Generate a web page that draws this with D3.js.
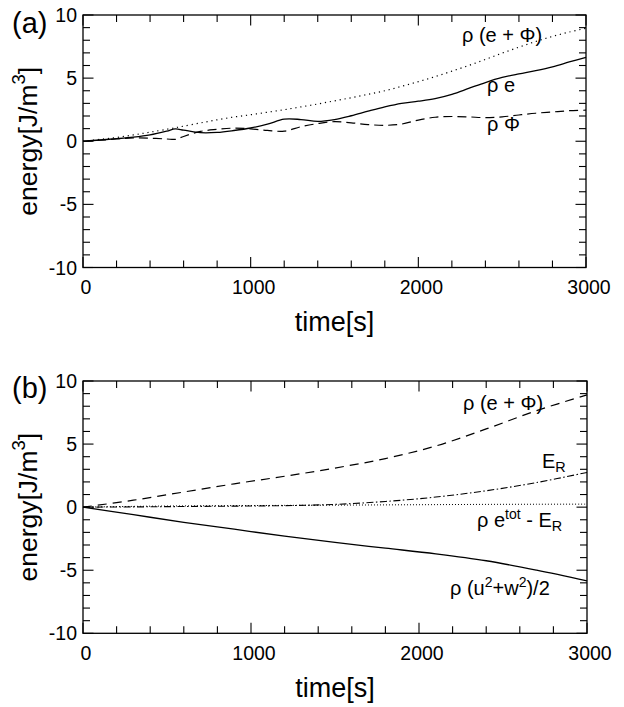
<!DOCTYPE html>
<html><head><meta charset="utf-8">
<script src="https://cdn.jsdelivr.net/npm/d3@7"></script>
<style>body{margin:0;background:#fff}svg{display:block}</style></head>
<body><svg id="c" width="624" height="707"></svg>
<script>
// ---------- data ----------
const timeA = [0,100,200,300,400,500,550,600,700,800,900,1000,1100,1200,1300,1400,1500,1600,1700,1800,1900,2000,2100,2200,2300,2400,2500,2600,2700,2800,2900,3000];
const rhoE_a   = [0,0.1,0.2,0.32,0.5,0.8,0.98,0.88,0.68,0.7,0.85,1.05,1.35,1.75,1.72,1.58,1.72,2.02,2.38,2.72,3.0,3.17,3.38,3.72,4.18,4.65,5.05,5.34,5.6,5.9,6.28,6.65];
const rhoPhi_a = [0,0.08,0.18,0.26,0.24,0.18,0.15,0.38,0.78,0.94,1.04,0.98,0.86,0.8,1.15,1.4,1.55,1.46,1.32,1.26,1.36,1.68,1.9,1.96,1.93,1.87,1.93,2.08,2.22,2.32,2.42,2.46];
const rhoSum_a = [0,0.15,0.3,0.5,0.72,0.95,1.07,1.2,1.45,1.7,1.92,2.1,2.3,2.5,2.72,2.95,3.2,3.45,3.72,4.0,4.35,4.72,5.12,5.55,6.0,6.48,6.98,7.45,7.9,8.3,8.65,8.95];

const timeB = [0,300,600,900,1200,1500,1800,2100,2400,2700,3000];
const rhoSum_b  = [0,0.55,1.2,1.85,2.45,3.1,3.85,4.85,6.2,7.65,8.9];
const eR_b      = [0,0.02,0.05,0.08,0.12,0.22,0.45,0.8,1.3,1.95,2.75];
const eTotMinus_b = [0,0.06,0.1,0.12,0.14,0.16,0.18,0.2,0.22,0.23,0.24];
const kinetic_b = [0,-0.6,-1.2,-1.75,-2.3,-2.8,-3.25,-3.7,-4.25,-5.0,-5.85];

const xMajorTicks = [0,1000,2000,3000];
const yMajorTicks = [-10,-5,0,5,10];
const xTickLabels = ["0","1000","2000","3000"];
const yTickLabels = ["-10","-5","0","5","10"];

// ---------- drawing ----------
const svg = d3.select("#c");
const FONT = "'Liberation Sans', Arial, Helvetica, sans-serif";

function richText(g, x, y, segs, size, anchor) {
  const t = g.append("text").attr("x", x).attr("y", y)
    .attr("font-family", FONT).attr("font-size", size)
    .attr("text-anchor", anchor || "start").attr("fill", "#000");
  let shift = 0;
  segs.forEach(s => {
    const sp = t.append("tspan").text(s.t);
    let target = 0, fs = size;
    if (s.k === "sup") { target = -size * 0.42; fs = size * 0.7; }
    if (s.k === "sub") { target = size * 0.22; fs = size * 0.72; }
    sp.attr("font-size", fs).attr("dy", target - shift);
    shift = target;
  });
  return t;
}

function panel(cfg) {
  const {top, bottom, left, right, letter} = cfg;
  const x = d3.scaleLinear().domain([0,3000]).range([left,right]);
  const y = d3.scaleLinear().domain([-10,10]).range([bottom,top]);
  const g = svg.append("g");

  g.append("rect").attr("x", left).attr("y", top).attr("width", right-left).attr("height", bottom-top)
    .attr("fill", "none").attr("stroke", "#000").attr("stroke-width", 1.3);

  const xt = d3.range(0, 3001, 200);
  const yt = d3.range(-10, 11, 1);
  const tk = g.append("g").attr("stroke", "#000").attr("stroke-width", 1.1);
  xt.forEach(v => {
    const L = xMajorTicks.includes(v) ? 10.5 : 7;
    tk.append("line").attr("x1", x(v)).attr("x2", x(v)).attr("y1", bottom).attr("y2", bottom - L);
    tk.append("line").attr("x1", x(v)).attr("x2", x(v)).attr("y1", top).attr("y2", top + L);
  });
  yt.forEach(v => {
    const L = yMajorTicks.includes(v) ? 10.5 : 7;
    tk.append("line").attr("x1", left).attr("x2", left + L).attr("y1", y(v)).attr("y2", y(v));
    tk.append("line").attr("x1", right).attr("x2", right - L).attr("y1", y(v)).attr("y2", y(v));
  });

  xMajorTicks.forEach((v,i) => {
    g.append("text").attr("x", x(v) + 3).attr("y", bottom + 26.5)
      .attr("text-anchor", "middle").attr("font-family", FONT).attr("font-size", 19.5)
      .text(xTickLabels[i]);
  });
  yMajorTicks.forEach((v,i) => {
    g.append("text").attr("x", left - 6).attr("y", y(v)).attr("dy", "0.36em")
      .attr("text-anchor", "end").attr("font-family", FONT).attr("font-size", 19.5)
      .text(yTickLabels[i]);
  });

  g.append("text").attr("x", (left + right)/2).attr("y", bottom + 63.5)
    .attr("text-anchor", "middle").attr("font-family", FONT).attr("font-size", 27)
    .text("time[s]");
  const yt2 = g.append("g").attr("transform", `translate(36.5,${(top+bottom)/2}) rotate(-90)`);
  richText(yt2, 0, 0, [{t:"energy[J/m"},{t:"3",k:"sup"},{t:"]"}], 26.5, "middle");

  g.append("text").attr("x", 12).attr("y", top + cfg.letterDy).attr("font-family", FONT)
    .attr("font-size", 29).text(letter);

  return {g, x, y};
}

function drawLine(P, times, vals, dash, w) {
  const line = d3.line().x((d,i) => P.x(times[i])).y(d => P.y(d)).curve(d3.curveCatmullRom.alpha(0.5));
  P.g.append("path").datum(vals).attr("d", line).attr("fill", "none")
    .attr("stroke", "#000").attr("stroke-width", w || 1.2)
    .attr("stroke-dasharray", dash || null);
}

// Panel (a)
const A = panel({top: 15, bottom: 267.5, left: 83, right: 586, letter: "(a)", letterDy: 18});
drawLine(A, timeA, rhoSum_a, "1.2 3.8", 1.2);
drawLine(A, timeA, rhoE_a, null, 1.3);
drawLine(A, timeA, rhoPhi_a, "9 5", 1.2);
richText(A.g, 462, 42, [{t:"ρ (e + Φ)"}], 20);
richText(A.g, 487, 92, [{t:"ρ e"}], 20);
richText(A.g, 487, 131, [{t:"ρ Φ"}], 20);

// Panel (b)
const B = panel({top: 381, bottom: 633.3, left: 83, right: 587, letter: "(b)", letterDy: 17});
drawLine(B, timeB, rhoSum_b, "9 6", 1.2);
drawLine(B, timeB, eR_b, "7 2.5 1.5 2.5", 1.1);
drawLine(B, timeB, eTotMinus_b, "1 2", 1.0);
drawLine(B, timeB, kinetic_b, null, 1.3);
richText(B.g, 463, 410, [{t:"ρ (e + Φ)"}], 20);
richText(B.g, 542, 468, [{t:"E"},{t:"R",k:"sub"}], 20);
richText(B.g, 477, 527, [{t:"ρ e"},{t:"tot",k:"sup"},{t:" - E"},{t:"R",k:"sub"}], 20);
richText(B.g, 450, 595, [{t:"ρ (u"},{t:"2",k:"sup"},{t:"+w"},{t:"2",k:"sup"},{t:")/2"}], 20);
</script></body></html>
